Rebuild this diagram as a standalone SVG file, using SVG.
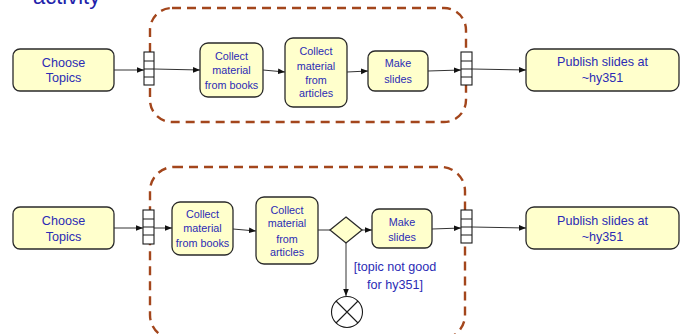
<svg xmlns="http://www.w3.org/2000/svg" width="687" height="334" viewBox="0 0 687 334">
  <style>
    .node { fill: #ffffcc; stroke: #2a2a2a; stroke-width: 1.3; }
    .pin { fill: #ffffff; stroke: #1a1a1a; stroke-width: 1.1; }
    .region { fill: none; stroke: #a3461c; stroke-width: 2.4; stroke-dasharray: 9 6; }
    .lbl { font-family: "Liberation Sans", Arial, sans-serif; fill: #2b2bb5; text-anchor: middle; }
    .big { font-size: 12.6px; }
    .small { font-size: 10.8px; }
    .flow { fill: none; stroke: #333333; stroke-width: 1; }
    .final { fill: #ffffff; stroke: #1a1a1a; stroke-width: 1.1; }
  </style>
  <defs>
    <marker id="arrow" viewBox="0 0 10 10" refX="10" refY="5" markerWidth="7" markerHeight="7" orient="auto" markerUnits="userSpaceOnUse">
      <path d="M0,1 L10,5 L0,9 Z" fill="#111111"/>
    </marker>
  </defs>

  <rect width="687" height="334" fill="#ffffff"/>

  <!-- heading, partly above the frame -->
  <text x="33" y="4" font-family="Liberation Sans, Arial, sans-serif" font-size="22" fill="#2222aa">activity</text>

  <!-- ===== upper activity ===== -->
  <rect class="region" x="150" y="8" width="316" height="114" rx="22" ry="22"/>

  <g id="choose-top">
    <rect class="node" x="13" y="49" width="101" height="42" rx="7"/>
    <text class="lbl big" x="63.5" y="67">Choose</text>
    <text class="lbl big" x="63.5" y="82">Topics</text>
  </g>
  <g id="pin-in-top">
    <rect class="pin" x="144" y="52" width="10" height="33"/>
    <path d="M144,61 H154 M144,69 H154 M144,77 H154" stroke="#1a1a1a" stroke-width="1"/>
  </g>
  <g id="books-top">
    <rect class="node" x="200" y="43" width="63" height="54" rx="8"/>
    <text class="lbl small" x="231.5" y="60">Collect</text>
    <text class="lbl small" x="231.5" y="74">material</text>
    <text class="lbl small" x="231.5" y="89">from books</text>
  </g>
  <g id="articles-top">
    <rect class="node" x="285" y="38" width="62" height="69" rx="8"/>
    <text class="lbl small" x="316" y="55">Collect</text>
    <text class="lbl small" x="316" y="70">material</text>
    <text class="lbl small" x="316" y="84">from</text>
    <text class="lbl small" x="316" y="97">articles</text>
  </g>
  <g id="make-top">
    <rect class="node" x="368" y="51" width="60" height="40" rx="7"/>
    <text class="lbl small" x="398" y="67">Make</text>
    <text class="lbl small" x="398" y="83">slides</text>
  </g>
  <g id="pin-out-top">
    <rect class="pin" x="461" y="52" width="11" height="33"/>
    <path d="M461,61 H472 M461,69 H472 M461,77 H472" stroke="#1a1a1a" stroke-width="1"/>
  </g>
  <g id="publish-top">
    <rect class="node" x="526" y="49" width="153" height="42" rx="8"/>
    <text class="lbl big" x="602.5" y="66">Publish slides at</text>
    <text class="lbl big" x="602.5" y="82">~hy351</text>
  </g>

  <!-- ===== lower activity ===== -->
  <rect class="region" x="150" y="167" width="315" height="172" rx="24" ry="24"/>

  <g id="choose-bottom">
    <rect class="node" x="13" y="207" width="101" height="42" rx="7"/>
    <text class="lbl big" x="63.5" y="225">Choose</text>
    <text class="lbl big" x="63.5" y="241">Topics</text>
  </g>
  <g id="pin-in-bottom">
    <rect class="pin" x="143" y="210" width="11" height="34"/>
    <path d="M143,219 H154 M143,227 H154 M143,235 H154" stroke="#1a1a1a" stroke-width="1"/>
  </g>
  <g id="books-bottom">
    <rect class="node" x="172" y="202" width="61" height="53" rx="8"/>
    <text class="lbl small" x="202.5" y="218">Collect</text>
    <text class="lbl small" x="202.5" y="232">material</text>
    <text class="lbl small" x="202.5" y="247">from books</text>
  </g>
  <g id="articles-bottom">
    <rect class="node" x="256" y="197" width="62" height="67" rx="8"/>
    <text class="lbl small" x="287" y="214">Collect</text>
    <text class="lbl small" x="287" y="227">material</text>
    <text class="lbl small" x="287" y="243">from</text>
    <text class="lbl small" x="287" y="256">articles</text>
  </g>
  <g id="decision">
    <path class="node" d="M346,217 L362,230 L346,243 L330,230 Z"/>
  </g>
  <g id="make-bottom">
    <rect class="node" x="372" y="209" width="60" height="39" rx="7"/>
    <text class="lbl small" x="402" y="226">Make</text>
    <text class="lbl small" x="402" y="241">slides</text>
  </g>
  <g id="guard">
    <text class="lbl big" x="395" y="271">[topic not good</text>
    <text class="lbl big" x="395" y="289">for hy351]</text>
  </g>
  <g id="flow-final">
    <circle class="final" cx="347" cy="312" r="15.5"/>
    <path d="M336,301 L358,323 M358,301 L336,323" stroke="#1a1a1a" stroke-width="1.1"/>
  </g>
  <g id="pin-out-bottom">
    <rect class="pin" x="461" y="210" width="11" height="33"/>
    <path d="M461,219 H472 M461,227 H472 M461,235 H472" stroke="#1a1a1a" stroke-width="1"/>
  </g>
  <g id="publish-bottom">
    <rect class="node" x="526" y="207" width="153" height="42" rx="8"/>
    <text class="lbl big" x="602.5" y="225">Publish slides at</text>
    <text class="lbl big" x="602.5" y="241">~hy351</text>
  </g>

  <!-- ===== connectors ===== -->
  <g id="connectors">
    <path class="flow" d="M114,70 L144,70" marker-end="url(#arrow)"/>
    <path class="flow" d="M154,69 L200,70" marker-end="url(#arrow)"/>
    <path class="flow" d="M263,70 L285,72" marker-end="url(#arrow)"/>
    <path class="flow" d="M347,72 L368,71" marker-end="url(#arrow)"/>
    <path class="flow" d="M428,71 L461,70" marker-end="url(#arrow)"/>
    <path class="flow" d="M472,69 L526,70" marker-end="url(#arrow)"/>

    <path class="flow" d="M114,228 L143,228" marker-end="url(#arrow)"/>
    <path class="flow" d="M154,228 L172,228" marker-end="url(#arrow)"/>
    <path class="flow" d="M233,229 L256,231" marker-end="url(#arrow)"/>
    <path class="flow" d="M318,230 L330,230"/>
    <path class="flow" d="M362,230 L372,230" marker-end="url(#arrow)"/>
    <path class="flow" d="M432,229 L461,228" marker-end="url(#arrow)"/>
    <path class="flow" d="M472,227 L526,228" marker-end="url(#arrow)"/>
    <path class="flow" d="M346,243 L346,296" marker-end="url(#arrow)"/>
  </g>
</svg>
